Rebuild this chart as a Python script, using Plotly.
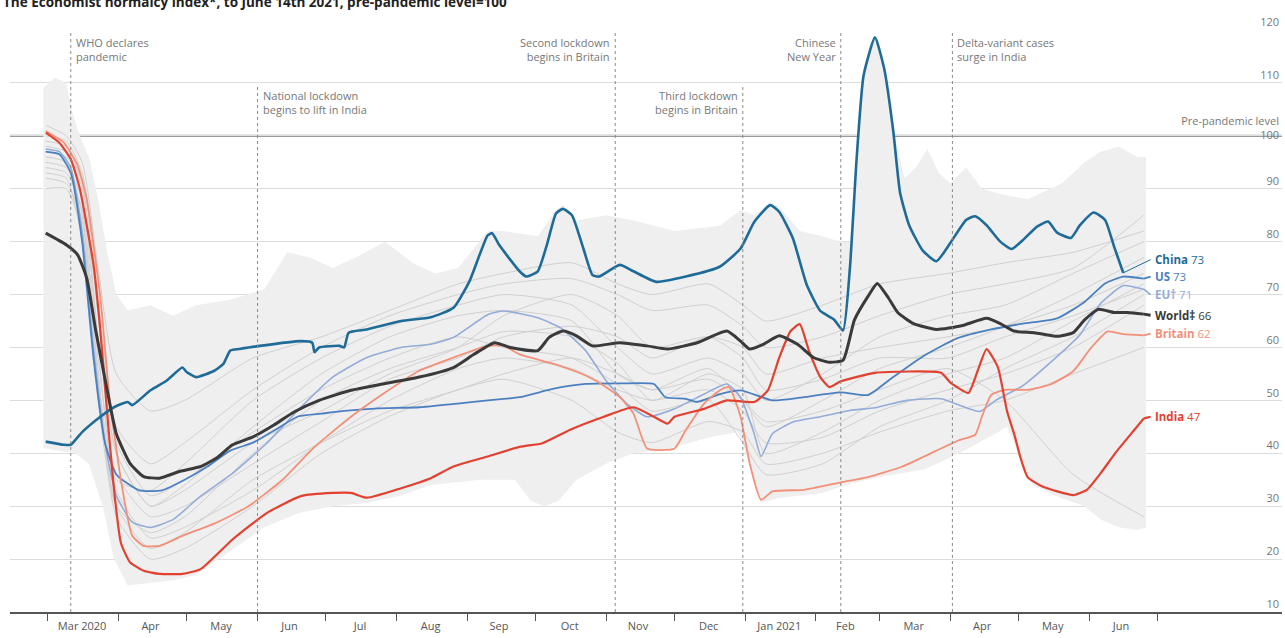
import pandas as pd
import plotly.graph_objects as go

BASE = pd.Timestamp("2020-03-01")

def to_dates(days):
    return [BASE + pd.Timedelta(days=d) for d in days]

# ---------------- data (day offsets from 1 Mar 2020, index values) ----------------
china_days = [-1, 7, 10, 15, 23, 29, 35, 37, 45, 52, 59, 61, 65, 73, 77, 80, 84, 93,
              111, 116, 117, 119, 128, 130, 132, 140, 155, 168, 178, 185, 193, 195, 198,
              207, 210, 215, 219, 223, 226, 230, 235, 239, 242, 251, 257, 267, 280, 295,
              304, 310, 317, 321, 327, 333, 339, 345, 349, 352, 355, 358, 363, 367, 371,
              374, 378, 384, 390, 396, 403, 407, 412, 418, 423, 428, 434, 439, 443, 449,
              453, 459, 464, 468, 472]
china_vals = [42.2, 41.6, 41.6, 44, 46.9, 48.7, 49.7, 49.1, 51.9, 53.7, 56.2, 55.3, 54.4, 55.6, 56.9, 59.4, 59.7, 60.3,
              61.2, 60.9, 59.1, 60, 60.3, 60, 62.8, 63.4, 65, 65.7, 67.5, 72.5, 81.2, 81.6, 79.4,
              74.4, 73.4, 74.4, 79.4, 85.3, 86.2, 85, 78.7, 73.7, 73.4, 75.6, 74.4, 72.4, 73.4, 75.3,
              78.7, 83.7, 86.9, 85.6, 80.6, 71.9, 66.9, 65.3, 63.2, 75, 96, 111.4, 118.6, 112.8, 101,
              89.3, 83.1, 78.3, 76.3, 79.7, 84.1, 84.8, 83.1, 80, 78.6, 80.3, 82.8, 83.8, 81.7, 80.7,
              83.1, 85.5, 84.1, 79, 74.1]

world_days = [-1, 8, 13, 17, 21, 26, 30, 36, 42, 49, 58, 67, 74, 81, 90, 99, 108, 119, 133, 147,
              163, 178, 187, 196, 203, 215, 220, 226, 232, 239, 251, 263, 272, 285, 298, 304, 308,
              314, 321, 329, 336, 343, 349, 354, 360, 364, 369, 373, 380, 390, 401, 412, 418, 424,
              433, 443, 450, 455, 461, 468, 474, 481]
world_vals = [81.6, 79.4, 77.5, 73.1, 63.1, 51.9, 43.7, 38.1, 35.6, 35.3, 36.6, 37.5, 39.1, 41.6, 43.1, 45.3, 47.8, 50, 51.9, 53.1,
              54.4, 56.2, 58.7, 60.9, 60, 59.4, 61.9, 63.1, 62.2, 60.3, 60.9, 60.3, 59.7, 60.9, 63.1, 61.2, 59.7,
              60.6, 62.2, 60.6, 58.1, 57.2, 57.6, 65.2, 69.7, 72.1, 69.3, 66.6, 64.5, 63.4, 64.1, 65.5, 64.5, 63.1,
              62.8, 62.1, 62.8, 65.2, 67.2, 66.6, 66.6, 66.3]

us_days = [-1, 5, 10, 15, 20, 25, 30, 40, 50, 60, 70, 80, 90, 100, 110, 120, 130, 145, 163, 193,
           207, 222, 236, 251, 266, 271, 280, 285, 295, 304, 318, 330, 348, 360, 370, 384, 399,
           414, 428, 443, 455, 464, 472, 481]
us_vals = [97, 96.5, 93, 80, 58, 42, 36, 33, 33, 35, 37.5, 40.5, 42, 44.5, 47, 47.5, 48, 48.5, 48.7, 50,
           50.6, 52.2, 53.1, 53.2, 53.1, 50.6, 50.3, 49.7, 51.2, 51.9, 50, 50.5, 51.5, 51, 54.1, 58.3, 61.7,
           63.4, 64.5, 65.5, 68.6, 72.1, 73.4, 73]

eu_days = [-1, 5, 10, 15, 20, 25, 30, 37, 45, 55, 67, 81, 96, 111, 125, 140, 155, 168, 178, 193,
           200, 215, 225, 236, 245, 254, 263, 275, 288, 298, 304, 310, 313, 318, 327, 339, 352, 363,
           377, 392, 403, 409, 416, 428, 443, 453, 462, 472, 481]
eu_vals = [97.5, 97, 94, 82, 60, 42, 32, 27, 26, 27.5, 31.9, 36.2, 41.9, 48.7, 54.4, 58.1, 60, 60.6, 61.9, 66.2,
           66.9, 65.6, 63.7, 59.4, 53.7, 49.4, 46.9, 48.4, 51.2, 53.1, 50.6, 43.7, 39.4, 43.7, 45.9, 46.9, 48.1, 48.6,
           50, 50.3, 48.6, 47.9, 50, 52.8, 58.3, 62.4, 68.3, 71.7, 71]

britain_days = [-1, 7, 13, 17, 23, 27, 32, 37, 42, 49, 59, 74, 88, 103, 117, 133, 147, 163, 178, 193,
                200, 207, 222, 236, 245, 251, 257, 263, 275, 280, 288, 295, 299, 304, 308, 313, 318, 332,
                348, 360, 375, 390, 400, 407, 410, 414, 420, 430, 440, 450, 458, 465, 472, 481]
britain_vals = [100.9, 98.7, 94.4, 88.1, 69.4, 50.6, 35, 24.4, 22.5, 22.5, 24.4, 26.9, 30, 35, 41.2, 46.9, 51.2, 55.6, 58.1, 60.3,
                60.3, 58.7, 56.9, 54.7, 52.5, 50.6, 47.5, 40.9, 40.9, 44.4, 49.4, 51.9, 52.5, 46.9, 38.1, 31.2, 32.8, 33.1,
                34.5, 35.5, 37.5, 40.5, 42.5, 43.5, 47, 51, 52, 52, 53, 55.5, 60, 63, 62.5, 62.3]

india_days = [-1, 5, 10, 14, 17, 20, 23, 26, 29, 32, 36, 42, 49, 59, 67, 81, 96, 111, 125, 133,
              140, 155, 168, 178, 193, 207, 217, 229, 244, 257, 266, 272, 275, 288, 298, 310, 316,
              321, 326, 330, 334, 339, 343, 348, 363, 392, 396, 404, 408, 412, 417, 421, 424, 427,
              430, 436, 443, 450, 456, 462, 469, 477, 481]
india_vals = [100.6, 98.7, 95.6, 90, 83.1, 75.6, 63.1, 47.5, 33.1, 23.1, 19.4, 17.8, 17.2, 17.2, 18.1, 23.7, 28.7, 31.9, 32.5, 32.5,
              31.6, 33.4, 35.3, 37.5, 39.4, 41.2, 41.9, 44.4, 46.9, 48.7, 46.9, 45.6, 46.9, 48.4, 50, 49.7, 51.9,
              58.1, 63.1, 64.4, 59.4, 54.4, 52.5, 53.6, 55.2, 55.2, 53.4, 51.4, 55.5, 59.7, 56.2, 47.9, 43.8, 39,
              35.5, 33.8, 32.8, 32.1, 33.1, 36.2, 40.3, 44.5, 46.6]

# range of all countries (grey band)
band_hi_days = [-2, 3, 8, 11, 14, 18, 22, 26, 30, 35, 45, 55, 65, 80, 95, 105, 115, 125, 135, 148,
                160, 170, 180, 193, 200, 215, 223, 226, 232, 245, 257, 275, 295, 304, 310, 317, 321,
                330, 340, 348, 352, 355, 358, 363, 367, 371, 376, 381, 386, 391, 396, 403, 410, 418,
                430, 445, 455, 462, 470, 478, 482]
band_hi_vals = [109, 111, 110, 104, 100, 96, 88, 78, 70, 67, 68, 66, 68, 69, 71, 78, 77, 75, 77, 80,
                76, 74, 75, 82, 82, 81, 86, 87, 84, 85, 84, 82, 83, 86, 85, 87.5, 86.5,
                82, 81, 80, 80, 96, 111.4, 118.6, 112.8, 101, 92, 94, 97.5, 93, 91, 94, 90, 89,
                88, 91, 95, 97, 98, 96, 96]
band_lo_days = [-2, 5, 12, 18, 24, 29, 35, 45, 55, 65, 80, 95, 110, 125, 140, 155, 168, 190, 205, 212,
                218, 224, 232, 245, 257, 270, 290, 303, 308, 313, 320, 340, 350, 365, 385, 400, 415,
                421, 426, 432, 445, 455, 462, 470, 478, 482]
band_lo_vals = [41, 40.5, 40, 38, 30, 20, 15, 15.5, 16, 17, 21.5, 26, 28.7, 30, 30.6, 32, 34, 35, 35, 31,
                30, 31, 35, 38, 40, 40.6, 43, 44, 38, 30.6, 31.5, 32.5, 34, 35.5, 37, 40, 43.5,
                45, 40, 34, 31.5, 30, 27.5, 26, 25.5, 26]

# other countries (thin grey lines), sampled on common days
grey_days = [-1, 8, 15, 22, 30, 45, 60, 90, 120, 150, 180, 200, 230, 250, 265, 290, 305, 315, 340, 365, 395, 420, 450, 481]
grey_lines = [
    [96, 95, 85, 55, 35, 33, 38, 50, 58, 64, 68, 70, 68, 60, 55, 58, 55, 50, 55, 62, 66, 68, 74, 80],
    [98, 97, 90, 62, 40, 30, 34, 45, 55, 62, 66, 67, 65, 55, 52, 56, 50, 45, 50, 56, 60, 64, 70, 77],
    [93, 92, 80, 50, 30, 25, 28, 40, 50, 56, 60, 63, 62, 57, 50, 55, 52, 40, 44, 50, 55, 58, 65, 72],
    [100, 99, 93, 70, 45, 38, 42, 52, 60, 66, 70, 72, 73, 70, 67, 68, 64, 60, 62, 66, 70, 72, 75, 85],
    [95, 94, 88, 60, 33, 24, 26, 33, 42, 50, 56, 58, 56, 52, 50, 52, 48, 42, 43, 48, 52, 55, 60, 68],
    [102, 100, 95, 75, 55, 48, 50, 58, 62, 67, 72, 74, 76, 72, 70, 72, 68, 65, 68, 72, 74, 76, 78, 82],
    [90, 90, 82, 55, 28, 20, 22, 30, 40, 47, 52, 54, 50, 44, 42, 46, 44, 38, 40, 44, 48, 50, 55, 60],
    [97, 96, 92, 68, 42, 32, 35, 44, 52, 58, 62, 60, 58, 53, 48, 50, 42, 36, 38, 45, 50, 56, 62, 70],
    [94, 93, 86, 58, 36, 28, 30, 38, 46, 54, 58, 62, 64, 62, 58, 62, 60, 55, 58, 60, 62, 64, 68, 74],
    [99, 98, 91, 66, 40, 30, 33, 42, 48, 55, 60, 66, 70, 66, 60, 62, 58, 52, 54, 58, 58, 62, 66, 71],
    [92, 91, 84, 55, 30, 22, 25, 35, 42, 48, 52, 55, 58, 55, 52, 54, 50, 46, 48, 52, 56, 50, 36, 28],
]

# end labels
label_names = ["China", "US", "EU†", "World‡", "Britain", "India"]
label_values = ["73", "73", "71", "66", "62", "47"]
label_y = [76.6, 73.4, 70.0, 66.1, 62.6, 46.9]
label_day = 485

# events
event_dates = ["2020-03-11", "2020-06-01", "2020-11-05", "2020-12-31", "2021-02-12", "2021-04-02"]
event_top = [119.6, 109.6, 119.6, 109.6, 119.6, 119.6]
event_text = ["WHO declares<br>pandemic", "National lockdown<br>begins to lift in India",
              "Second lockdown<br>begins in Britain", "Third lockdown<br>begins in Britain",
              "Chinese<br>New Year", "Delta-variant cases<br>surge in India"]
event_side = ["right", "right", "left", "left", "left", "right"]

# axes
y_ticks = [10, 20, 30, 40, 50, 60, 70, 80, 90, 100, 110, 120]
y_ticktext = ["10", "20", "30", "40", "50", "60", "70", "80", "90", "Pre-pandemic level<br>100", "110", "120"]
month_starts = ["2020-03-01", "2020-04-01", "2020-05-01", "2020-06-01", "2020-07-01", "2020-08-01",
                "2020-09-01", "2020-10-01", "2020-11-01", "2020-12-01", "2021-01-01", "2021-02-01",
                "2021-03-01", "2021-04-01", "2021-05-01", "2021-06-01", "2021-07-01"]
month_mids = ["2020-03-16", "2020-04-15", "2020-05-16", "2020-06-15", "2020-07-16", "2020-08-16",
              "2020-09-15", "2020-10-16", "2020-11-15", "2020-12-16", "2021-01-16", "2021-02-14",
              "2021-03-16", "2021-04-15", "2021-05-16", "2021-06-15"]
month_labels = ["Mar 2020", "Apr", "May", "Jun", "Jul", "Aug", "Sep", "Oct", "Nov", "Dec",
                "Jan 2021", "Feb", "Mar", "Apr", "May", "Jun"]

FONT = "Open Sans, Roboto, sans-serif"

# ---------------- figure ----------------
fig = go.Figure()

# grey band
fig.add_trace(go.Scatter(
    x=to_dates(band_hi_days) + to_dates(band_lo_days[::-1]),
    y=band_hi_vals + band_lo_vals[::-1],
    fill="toself", fillcolor="#efefef", line=dict(width=0),
    mode="lines", hoverinfo="skip", showlegend=False))

for g in grey_lines:
    fig.add_trace(go.Scatter(x=to_dates(grey_days), y=g, mode="lines",
                             line=dict(color="#d0d0d0", width=1, shape="spline", smoothing=0.6),
                             hoverinfo="skip", showlegend=False))

series = [
    ("EU", eu_days, eu_vals, "#93acd8", 1.6),
    ("US", us_days, us_vals, "#4b80c0", 1.8),
    ("Britain", britain_days, britain_vals, "#f29079", 1.8),
    ("India", india_days, india_vals, "#e2412f", 2.2),
    ("China", china_days, china_vals, "#1f6b98", 2.6),
    ("World", world_days, world_vals, "#3a3a3a", 3.0),
]
label_colors = {"China": "#1f6b98", "US": "#4b80c0", "EU": "#93acd8",
                "World": "#3a3a3a", "Britain": "#f29079", "India": "#e2412f"}
label_order = ["China", "US", "EU", "World", "Britain", "India"]

for name, d, v, c, w in series:
    fig.add_trace(go.Scatter(x=to_dates(d), y=v, mode="lines",
                             line=dict(color=c, width=w, shape="spline", smoothing=0.5),
                             name=name, showlegend=False))
    i = label_order.index(name)
    fig.add_trace(go.Scatter(x=to_dates([d[-1], label_day - 1]), y=[v[-1], label_y[i]],
                             mode="lines", line=dict(color=c, width=1 if name == "China" else w),
                             hoverinfo="skip", showlegend=False))

# end labels
for i, nm in enumerate(label_order):
    c = label_colors[nm]
    fig.add_annotation(x=to_dates([label_day])[0], y=label_y[i], xref="x", yref="y",
                       text=f"<b>{label_names[i]}</b> {label_values[i]}", showarrow=False,
                       xanchor="left", yanchor="middle",
                       font=dict(family=FONT, size=11.5, color=c))

# event lines and notes
for dt, top, txt, side in zip(event_dates, event_top, event_text, event_side):
    fig.add_shape(type="line", xref="x", yref="y", x0=dt, x1=dt, y0=10, y1=top,
                  line=dict(color="#8a8a8a", width=1, dash="dot"), layer="above")
    fig.add_annotation(x=dt, y=top - 0.2, xref="x", yref="y", text=txt, showarrow=False,
                       xanchor="left" if side == "right" else "right", yanchor="top",
                       xshift=3 if side == "right" else -3,
                       align="left" if side == "right" else "right",
                       font=dict(family=FONT, size=11, color="#777777"))

# pre-pandemic level line
fig.add_shape(type="line", xref="paper", yref="y", x0=0, x1=1, y0=100, y1=100,
              line=dict(color="#9a9a9a", width=2.2), layer="below")

# title (partially cut at the top, as in the original)
fig.add_annotation(xref="paper", yref="paper", x=0, y=1, xshift=-9, yshift=17,
                   xanchor="left", yanchor="bottom", showarrow=False,
                   text="<b>The Economist normalcy index*, to June 14th 2021, pre-pandemic level=100</b>",
                   font=dict(family=FONT, size=13.5, color="#222222"))

fig.update_layout(
    width=1285, height=638,
    margin=dict(l=10, r=3, t=30, b=26),
    paper_bgcolor="white", plot_bgcolor="white",
    showlegend=False,
    xaxis=dict(type="date",
               range=["2020-02-13 08:00", "2021-08-24 16:00"],
               tickvals=month_mids, ticktext=month_labels,
               ticks="outside", ticklen=0, tickcolor="rgba(0,0,0,0)",
               ticklabelstandoff=3,
               tickfont=dict(family=FONT, size=11, color="#555555"),
               showgrid=False, zeroline=False,
               showline=True, linecolor="#555555", linewidth=1.5,
               minor=dict(tickvals=month_starts, ticks="outside", ticklen=7,
                          tickcolor="#555555", tickwidth=1, showgrid=False),
               fixedrange=True),
    yaxis=dict(range=[10, 120], side="right",
               tickvals=y_ticks, ticktext=y_ticktext,
               ticklabelposition="inside top", ticklabeloverflow="allow",
               tickfont=dict(family=FONT, size=11, color="#777777"),
               showgrid=True, gridcolor="#dcdcdc", gridwidth=1,
               zeroline=False, showline=False, ticks="", fixedrange=True),
)

fig.write_html("out.html", config={"displayModeBar": False},
               post_script="document.body.style.margin='0';document.body.style.overflow='hidden';")
